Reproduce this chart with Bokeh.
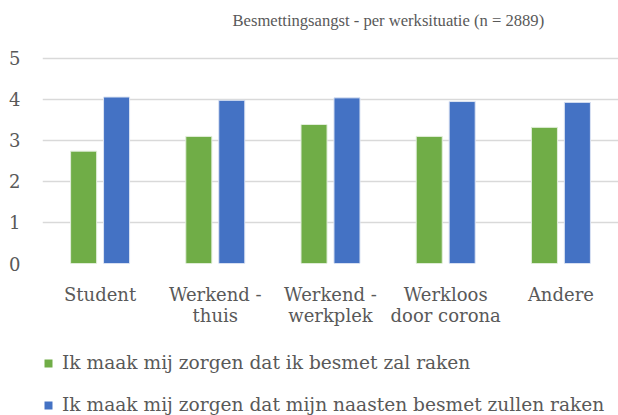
from bokeh.plotting import figure
from bokeh.models import FactorRange, Range1d, FixedTicker, Legend, LegendItem
from bokeh.layouts import column
from bokeh.transform import dodge
from bokeh.embed import file_html
from bokeh.resources import INLINE

categories = ["Student", "Werkend -\nthuis", "Werkend -\nwerkplek", "Werkloos\ndoor corona", "Andere"]
zelf = [2.74, 3.10, 3.39, 3.10, 3.32]
naasten = [4.06, 3.98, 4.04, 3.95, 3.93]
series_names = ["Ik maak mij zorgen dat ik besmet zal raken",
                "Ik maak mij zorgen dat mijn naasten besmet zullen raken"]
yticks = [0, 1, 2, 3, 4, 5]

FONT = "DejaVu Serif"
TXT = "#595959"
GREEN = "#70AD47"
BLUE = "#4472C4"

p = figure(frame_width=576, frame_height=229, x_range=FactorRange(*categories, range_padding=0),
           y_range=Range1d(0, 5.585), output_backend="svg", toolbar_location=None,
           min_border_left=42, min_border_right=0, min_border_top=34, min_border_bottom=75)

p.title.text = "Besmettingsangst - per werksituatie (n = 2889)"
p.title.align = "left"
p.title.offset = 190
p.title.text_font = "Liberation Serif"
p.title.text_font_size = "16.6px"
p.title.text_font_style = "normal"
p.title.text_color = TXT
p.title.standoff = 10

src = dict(cat=categories, zelf=zelf, naasten=naasten)
p.vbar(x=dodge("cat", -0.143, range=p.x_range), top="zelf", width=0.226, source=src,
       fill_color=GREEN, line_color="#e2eedb", line_width=1)
p.vbar(x=dodge("cat", 0.143, range=p.x_range), top="naasten", width=0.226, source=src,
       fill_color=BLUE, line_color="#dce4f3", line_width=1)

p.outline_line_color = None
p.xgrid.grid_line_color = None
p.ygrid.grid_line_color = "#D9D9D9"
p.ygrid.grid_line_width = 1.5
p.yaxis.ticker = FixedTicker(ticks=yticks)
for ax in (p.xaxis, p.yaxis):
    ax.axis_line_color = None
    ax.major_tick_line_color = None
    ax.minor_tick_line_color = None
    ax.major_label_text_font = FONT
    ax.major_label_text_font_size = "18px"
    ax.major_label_text_color = TXT
p.yaxis.major_label_standoff = 16
p.xaxis.major_label_standoff = 14
p.xaxis.major_label_text_line_height = 1.0

# legend strip below the chart: same series, drawn outside its visible range
lp = figure(width=618, height=77, output_backend="svg", toolbar_location=None,
            min_border=0, x_range=FactorRange(*categories, range_padding=0),
            y_range=Range1d(10, 11), x_axis_location=None, y_axis_location=None)
lp.grid.visible = False
lp.outline_line_color = None
l1 = lp.vbar(x=dodge("cat", -0.143, range=lp.x_range), top="zelf", width=0.226, source=src,
             fill_color=GREEN, line_color=None)
l2 = lp.vbar(x=dodge("cat", 0.143, range=lp.x_range), top="naasten", width=0.226, source=src,
             fill_color=BLUE, line_color=None)
legend = Legend(items=[LegendItem(label=series_names[0], renderers=[l1]),
                       LegendItem(label=series_names[1], renderers=[l2])],
                orientation="vertical", location=(1, 0),
                label_text_font=FONT, label_text_font_size="18.6px", label_text_color=TXT,
                glyph_width=10, glyph_height=10, spacing=21, padding=0, margin=0,
                label_standoff=9, border_line_color=None, background_fill_alpha=0)
lp.add_layout(legend, "center")

open("out.html", "w").write(file_html(column(p, lp, spacing=0), INLINE))
